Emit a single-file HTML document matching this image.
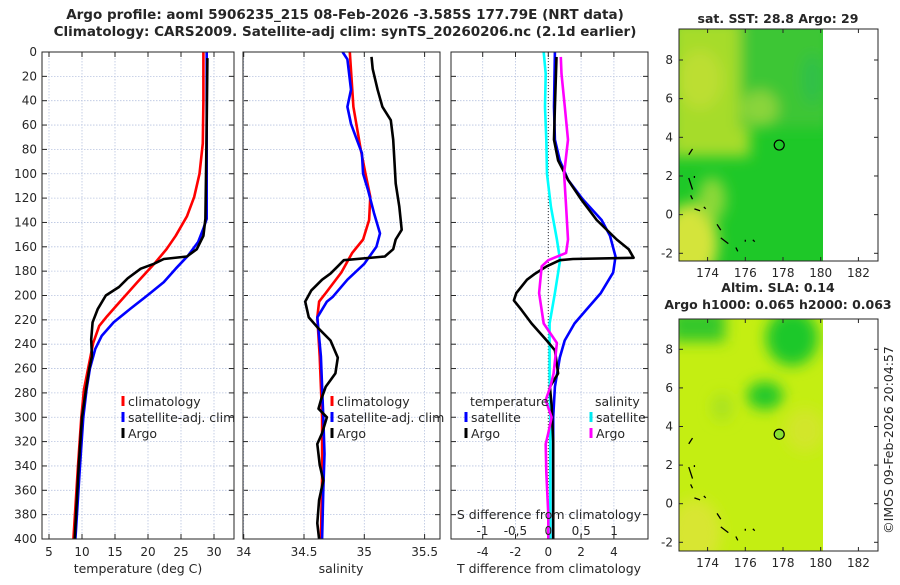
<!DOCTYPE html>
<html><head><meta charset="utf-8">
<style>
html,body{margin:0;padding:0;background:#fff;}
body{width:900px;height:580px;overflow:hidden;font-family:"Liberation Sans","DejaVu Sans",sans-serif;}
svg text{font-family:"DejaVu Sans","Liberation Sans",sans-serif;fill:#262626;}
</style></head>
<body>
<svg id="chart" width="900" height="580" viewBox="0 0 900 580" xmlns="http://www.w3.org/2000/svg">
<defs>
<filter id="blur6" x="-50%" y="-50%" width="200%" height="200%"><feGaussianBlur stdDeviation="7"/></filter>
<clipPath id="clipMap1"><rect x="679" y="29" width="144" height="232"/></clipPath>
<clipPath id="clipMap2"><rect x="679" y="319" width="144" height="232"/></clipPath>
<clipPath id="clipP1"><rect x="42" y="52" width="192" height="487"/></clipPath>
<clipPath id="clipP2"><rect x="243" y="52" width="197" height="487"/></clipPath>
<clipPath id="clipP3"><rect x="451" y="52" width="197" height="487"/></clipPath>
</defs>
<g id="root"></g>
</svg>
<script>
// ---------- data ----------
const depthTicks = [0,20,40,60,80,100,120,140,160,180,200,220,240,260,280,300,320,340,360,380,400];
const tempTicks = [5,10,15,20,25,30];
const salTicks = [34,34.5,35,35.5];
const salTickLabels = ["34","34.5","35","35.5"];
const tdiffTicks = [-4,-2,0,2,4];
const sdiffTicks = [-1,-0.5,0,0.5,1];
const sdiffTickLabels = ["-1","-0,5","0","0,5","1"];
const lonTicks = [174,176,178,180,182];
const latTicks = [8,6,4,2,0,-2];

// temperature profiles [depth, T]
const tempClimDepth = [0,40,75,100,119,135,151,162,173,189,206,217,225,239,255,277,300,340,400];
const tempClimVal   = [28.4,28.4,28.3,27.8,27.0,25.9,24.2,22.8,21.1,18.4,15.6,13.8,12.6,11.7,11.1,10.3,9.9,9.4,8.7];
const tempSatDepth = [0,60,137,145,156,167,178,189,200,211,222,233,244,260,277,300,340,400];
const tempSatVal   = [28.9,28.9,28.9,28.4,27.6,26.1,24.2,22.4,19.9,17.3,14.8,13.0,12.0,11.2,10.7,10.2,9.7,9.0];
const tempArgoDepth = [5,60,137,151,162,168,170,174,178,186,193,200,211,222,236,250,260,277,300,340,400];
const tempArgoVal   = [29.0,28.9,28.7,28.4,27.4,25.9,22.4,20.9,18.9,16.9,15.6,13.6,12.4,11.6,11.4,11.5,11.1,10.6,10.0,9.5,8.9];

// salinity profiles
const salClimDepth = [0,45,80,100,119,138,154,165,181,198,205,218,250,300,350,400];
const salClimVal   = [34.88,34.91,34.97,35.01,35.05,35.04,34.99,34.90,34.81,34.68,34.625,34.61,34.63,34.65,34.65,34.64];
const salSatDepth = [0,6,31,45,59,70,83,100,113,132,149,160,174,187,201,205,218,250,300,330,360,400];
const salSatVal   = [34.82,34.86,34.89,34.86,34.89,34.93,34.98,34.99,35.03,35.08,35.13,35.10,35.00,34.86,34.74,34.69,34.61,34.64,34.66,34.67,34.66,34.65];
const salArgoDepth = [4,14,31,45,56,72,89,108,127,146,154,162,168,171,176,182,187,196,205,218,226,237,251,264,275,286,293,300,313,322,339,352,368,387,400];
const salArgoVal   = [35.06,35.07,35.11,35.15,35.22,35.24,35.25,35.26,35.29,35.31,35.26,35.24,35.17,34.83,34.78,34.72,34.65,34.56,34.51,34.54,34.61,34.72,34.78,34.76,34.68,34.64,34.62,34.69,34.65,34.61,34.63,34.66,34.625,34.61,34.625];

// difference profiles
const tdSatDepth = [0,45,72,89,105,121,138,151,168,181,198,212,223,237,251,275,300,400];
const tdSatVal   = [0.4,0.35,0.4,0.7,1.2,2.1,3.25,3.76,4.1,3.96,3.2,2.3,1.6,1.0,0.7,0.4,0.3,0.3];
const tdArgoDepth = [4,45,72,89,105,121,138,154,162,169,170,171,176,182,187,192,198,204,212,223,237,245,264,275,290,320,400];
const tdArgoVal   = [0.5,0.4,0.35,0.6,1.2,2.0,2.95,4.17,4.9,5.2,1.5,0.7,-0.1,-0.8,-1.3,-1.6,-1.95,-2.1,-1.63,-1.02,-0.1,0.4,0.6,0.1,0.2,0.3,0.3];
const sdSatDepth = [0,18,45,72,100,127,154,171,198,223,264,300,400];
const sdSatVal   = [-0.07,-0.04,-0.05,-0.03,-0.02,0.04,0.13,0.18,0.1,0.02,0.02,0.03,0.03];
const sdArgoDepth = [4,18,45,72,100,127,154,165,171,176,198,223,239,264,275,286,300,313,322,345,380,400];
const sdArgoVal   = [0.19,0.2,0.25,0.3,0.24,0.27,0.3,0.27,0.0,-0.1,-0.14,-0.07,0.13,0.08,0.03,-0.04,0.05,0.0,-0.04,-0.03,0.0,0.0];

// map markers
const argoLon = [177.8];
const argoLat = [3.6];

// ---------- helpers ----------
const NS = "http://www.w3.org/2000/svg";
const root = document.getElementById('root');
function mk(tag, attrs, parent){ const e=document.createElementNS(NS,tag); for(const k in attrs) e.setAttribute(k,attrs[k]); (parent||root).appendChild(e); return e; }
function txt(x,y,s,opts,parent){ const t=mk('text',Object.assign({x:x,y:y,'font-size':12},opts||{}),parent); t.textContent=s; return t; }

const Y0=52, Y1=539;
const yD = d => Y0 + d*(Y1-Y0)/400;

const panels = [
  {name:'temperature-panel', x0:42, x1:234, sx:v=>49+(v-5)*6.6, clip:'clipP1'},
  {name:'salinity-panel', x0:243, x1:440, sx:v=>304+(v-34.5)*120.6, clip:'clipP2'},
  {name:'difference-panel', x0:451, x1:648, sx:v=>548.3+v*16.4, clip:'clipP3'}
];
const sdx = v=>548.3+v*65.8;

function drawGridAndFrame(p, xticks){
  const g = mk('g',{});
  
  
  depthTicks.forEach(d=>{
    mk('line',{x1:p.x0,x2:p.x1,y1:yD(d),y2:yD(d),stroke:'#b8c4e0','stroke-width':0.8,'stroke-dasharray':'1.5,1.5'},g);
    mk('line',{x1:p.x0,x2:p.x0+5,y1:yD(d),y2:yD(d),stroke:'#262626','stroke-width':1},g);
    mk('line',{x1:p.x1-5,x2:p.x1,y1:yD(d),y2:yD(d),stroke:'#262626','stroke-width':1},g);
  });
  xticks.forEach(v=>{
    const x=p.sx(v);
    if(x<p.x0-0.5||x>p.x1+0.5) return;
    mk('line',{x1:x,x2:x,y1:Y0,y2:Y1,stroke:'#b8c4e0','stroke-width':0.8,'stroke-dasharray':'1.5,1.5'},g);
    mk('line',{x1:x,x2:x,y1:Y1-5,y2:Y1,stroke:'#262626','stroke-width':1},g);
    mk('line',{x1:x,x2:x,y1:Y0,y2:Y0+5,stroke:'#262626','stroke-width':1},g);
  });
  return g;
}
function frame(p){
  const r=mk('rect',{x:p.x0,y:Y0,width:p.x1-p.x0,height:Y1-Y0,fill:'none',stroke:'#262626','stroke-width':1});
  
  
}
function line(p, depths, vals, color, name, sx){
  const f = sx || p.sx;
  const pts = depths.map((d,i)=>f(vals[i]).toFixed(1)+','+yD(d).toFixed(1)).join(' ');
  const pl = mk('polyline',{points:pts,fill:'none',stroke:color,'stroke-width':2.6,'stroke-linejoin':'round','clip-path':'url(#'+p.clip+')'});
  
  
}

// ---------- titles ----------
txt(345,19,'Argo profile: aoml 5906235_215 08-Feb-2026 -3.585S 177.79E (NRT data)',{'text-anchor':'middle','font-weight':'bold','font-size':13.5,});
txt(345,36,'Climatology: CARS2009. Satellite-adj clim: synTS_20260206.nc (2.1d earlier)',{'text-anchor':'middle','font-weight':'bold','font-size':13.5,});

// ---------- panel 1 ----------
const p1=panels[0];
drawGridAndFrame(p1, tempTicks);
depthTicks.forEach(d=>{ const t=txt(37,yD(d)+4,String(d),{'text-anchor':'end'});   });
tempTicks.forEach(v=>{ const t=txt(p1.sx(v),556,String(v),{'text-anchor':'middle'});   });
txt(138,573,'temperature (deg C)',{'text-anchor':'middle','font-size':12.5,});
line(p1,tempClimDepth,tempClimVal,'#ff0000','temperature-climatology-line');
line(p1,tempSatDepth,tempSatVal,'#0000ff','temperature-satellite-line');
line(p1,tempArgoDepth,tempArgoVal,'#000000','temperature-argo-line');
frame(p1);

// ---------- panel 2 ----------
const p2=panels[1];
drawGridAndFrame(p2, salTicks);
salTicks.forEach((v,i)=>{ const t=txt(p2.sx(v),556,salTickLabels[i],{'text-anchor':'middle'});   });
txt(341,573,'salinity',{'text-anchor':'middle','font-size':12.5,});
line(p2,salClimDepth,salClimVal,'#ff0000','salinity-climatology-line');
line(p2,salSatDepth,salSatVal,'#0000ff','salinity-satellite-line');
line(p2,salArgoDepth,salArgoVal,'#000000','salinity-argo-line');
frame(p2);

// ---------- panel 3 ----------
const p3=panels[2];
drawGridAndFrame(p3, tdiffTicks);
const zl=mk('line',{x1:p3.sx(0),x2:p3.sx(0),y1:Y0,y2:Y1,stroke:'#333','stroke-width':1,'stroke-dasharray':'1,2'});
 
tdiffTicks.forEach(v=>{ const t=txt(p3.sx(v),556,String(v),{'text-anchor':'middle'});   });
txt(549,573,'T difference from climatology',{'text-anchor':'middle','font-size':12.5,});
line(p3,sdSatDepth,sdSatVal,'#00ffff','sdiff-satellite-line',sdx);
line(p3,tdSatDepth,tdSatVal,'#0000ff','tdiff-satellite-line');
line(p3,tdArgoDepth,tdArgoVal,'#000000','tdiff-argo-line');
line(p3,sdArgoDepth,sdArgoVal,'#ff00ff','sdiff-argo-line',sdx);
frame(p3);
txt(549,519,'S difference from climatology',{'text-anchor':'middle','font-size':12.5,});
sdiffTicks.forEach((v,i)=>{ const t=txt(sdx(v),535,sdiffTickLabels[i],{'text-anchor':'middle'});   });

// ---------- legends ----------
function legendEntry(x,y,color,label,name){
  const g=mk('g',{});
  
  
  mk('line',{x1:x,x2:x,y1:y-10,y2:y,stroke:color,'stroke-width':3},g);
  txt(x+5,y,label,{'font-size':12.5},g);
}
legendEntry(123,406,'#ff0000','climatology','legend-entry-climatology');
legendEntry(123,422,'#0000ff','satellite-adj. clim','legend-entry-satellite');
legendEntry(123,438,'#000000','Argo','legend-entry-argo');
legendEntry(332,406,'#ff0000','climatology','legend-entry-climatology');
legendEntry(332,422,'#0000ff','satellite-adj. clim','legend-entry-satellite');
legendEntry(332,438,'#000000','Argo','legend-entry-argo');
txt(470,406,'temperature',{'font-size':12.5,});
legendEntry(466,422,'#0000ff','satellite','legend-entry-t-satellite');
legendEntry(466,438,'#000000','Argo','legend-entry-t-argo');
txt(595,406,'salinity',{'font-size':12.5,});
legendEntry(591,422,'#00e8f0','satellite','legend-entry-s-satellite');
legendEntry(591,438,'#ff00ff','Argo','legend-entry-s-argo');

// ---------- maps ----------
const mapX = lon => 820.7 + (lon-180)*18.85;
function drawMap(top, lat8y, latm2y, kind, titleLines){
  const yL = lat => lat8y + (8-lat)*(latm2y-lat8y)/10;
  const g=mk('g',{});
  
  
  const clip = kind==='sst' ? 'url(#clipMap1)' : 'url(#clipMap2)';
  const cg = mk('g',{'clip-path':clip},g);
  if(kind==='sst'){
    mk('rect',{x:679,y:top,width:144,height:232,fill:'#1ec828'},cg);
    const bg=mk('g',{filter:'url(#blur6)'},cg);
    mk('rect',{x:670,y:top-10,width:80,height:yL(3)-top+10,fill:'#a6dc2c'},bg);
    mk('rect',{x:740,y:top-10,width:90,height:yL(4.5)-top+10,fill:'#3cc634'},bg);
    mk('ellipse',{cx:700,cy:yL(7),rx:22,ry:30,fill:'#bcde30'},bg);
    mk('ellipse',{cx:760,cy:yL(5.5),rx:18,ry:18,fill:'#8ad43a'},bg);
    mk('ellipse',{cx:690,cy:yL(-1.5),rx:28,ry:40,fill:'#d4e43a'},bg);
    mk('ellipse',{cx:712,cy:yL(0.8),rx:14,ry:22,fill:'#8cd838'},bg);
    mk('ellipse',{cx:812,cy:yL(7),rx:10,ry:26,fill:'#2ec048'},bg);
  } else {
    mk('rect',{x:679,y:top,width:144,height:232,fill:'#c4ee12'},cg);
    const bg=mk('g',{filter:'url(#blur6)'},cg);
    mk('ellipse',{cx:792,cy:yL(8.6),rx:26,ry:28,fill:'#1cc82c'},bg);
    mk('rect',{x:670,y:top-10,width:55,height:yL(8.4)-top+10,fill:'#34c82a'},bg);
    mk('ellipse',{cx:765,cy:yL(5.6),rx:18,ry:14,fill:'#22c82a'},bg);
    mk('ellipse',{cx:695,cy:yL(-1.5),rx:26,ry:34,fill:'#d8e630'},bg);
    mk('ellipse',{cx:805,cy:yL(3.8),rx:20,ry:22,fill:'#d2e62c'},bg);
    mk('ellipse',{cx:722,cy:yL(5),rx:10,ry:14,fill:'#a8e220'},bg);
  }
  // coastline bits
  const coast = [[173.0,3.1,173.2,3.4],[173.0,1.9,173.2,1.3],[173.3,2.0,173.3,1.9],[173.1,1.0,173.2,0.8],[173.3,0.3,173.6,0.2],[173.8,0.4,173.9,0.3],[174.5,-0.5,174.7,-0.8],[174.7,-1.2,175.1,-1.5],[175.5,-1.7,175.6,-1.9],[176.0,-1.3,176.0,-1.4],[176.4,-1.3,176.5,-1.4]];
  coast.forEach(c=>{ const l=mk('line',{x1:mapX(c[0]),y1:yL(c[1]),x2:mapX(c[2]),y2:yL(c[3]),stroke:'#000','stroke-width':1.3},cg);   });
  argoLon.forEach((lon,i)=>{
    const c=mk('circle',{cx:mapX(lon),cy:yL(argoLat[i]),r:5,fill:kind==='sst'?'none':'#88e030',stroke:'#000','stroke-width':1.2},g);
    
    
  });
  mk('rect',{x:679,y:top,width:199,height:232,fill:'none',stroke:'#262626','stroke-width':1},g);
  latTicks.forEach(lat=>{
    const y=yL(lat);
    mk('line',{x1:679,x2:683,y1:y,y2:y,stroke:'#262626'},g);
    mk('line',{x1:874,x2:878,y1:y,y2:y,stroke:'#262626'},g);
    const t=txt(673,y+4,String(lat),{'text-anchor':'end'},g);
     
  });
  lonTicks.forEach(lon=>{
    const x=mapX(lon);
    mk('line',{x1:x,x2:x,y1:top+228,y2:top+232,stroke:'#262626'},g);
    mk('line',{x1:x,x2:x,y1:top,y2:top+4,stroke:'#262626'},g);
    const t=txt(x,top+248,String(lon),{'text-anchor':'middle'},g);
     
  });
  titleLines.forEach((s,i)=>{
    const t=txt(778,titleLines.length===1? top-6 : top-27+i*17,s,{'text-anchor':'middle','font-weight':'bold','font-size':12.5},g);
     
  });
}
drawMap(29,60,253.3,'sst',['sat. SST: 28.8 Argo: 29']);
drawMap(319,349.3,542.3,'sla',['Altim. SLA: 0.14','Argo h1000: 0.065 h2000: 0.063']);
txt(893,440,'©IMOS 09-Feb-2026 20:04:57',{'text-anchor':'middle','font-size':12.5,transform:'rotate(-90 893 440)',});
</script>
</body></html>
